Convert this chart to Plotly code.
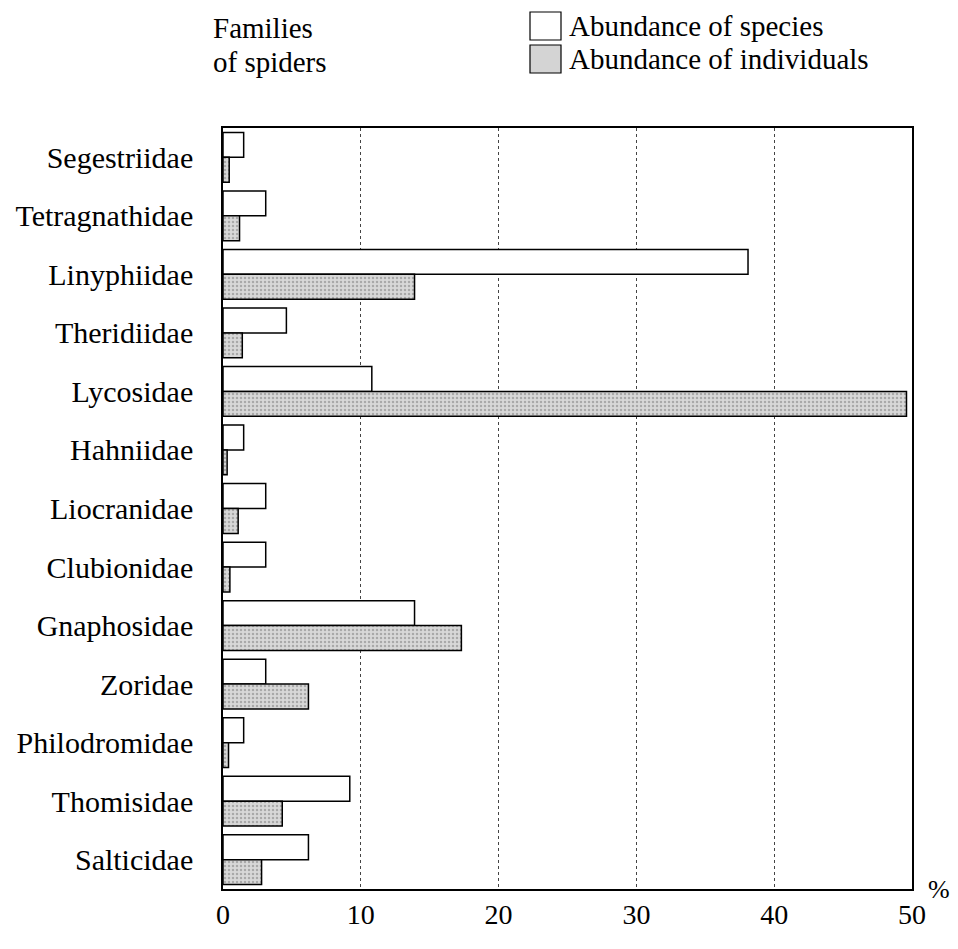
import plotly.graph_objects as go

families = ["Segestriidae", "Tetragnathidae", "Linyphiidae", "Theridiidae", "Lycosidae",
            "Hahniidae", "Liocranidae", "Clubionidae", "Gnaphosidae", "Zoridae",
            "Philodromidae", "Thomisidae", "Salticidae"]
species = [1.5, 3.1, 38.1, 4.6, 10.8, 1.5, 3.1, 3.1, 13.9, 3.1, 1.5, 9.2, 6.2]
individuals = [0.45, 1.2, 13.9, 1.4, 49.6, 0.3, 1.1, 0.5, 17.3, 6.2, 0.4, 4.3, 2.8]
x_ticks = [0, 10, 20, 30, 40, 50]
series_names = ["Abundance of species", "Abundance of individuals"]

FONT = "Liberation Serif"
W, H = 958, 949
OFF = 8  # page body margin
ML, MR, MT, MB = 215, 54, 120, 68
PW, PH = W - ML - MR, H - MT - MB

SPECIES_STYLE = dict(color="white", line=dict(color="black", width=1.5))
INDIV_STYLE = dict(color="#d4d4d4", line=dict(color="black", width=1.5),
                   pattern=dict(shape=".", fgcolor="#7a7a7a", bgcolor="#d8d8d8",
                                size=4, solidity=0.3))

fig = go.Figure()
fig.add_trace(go.Bar(y=families, x=species, orientation="h", name=series_names[0],
                     marker=SPECIES_STYLE))
fig.add_trace(go.Bar(y=families, x=individuals, orientation="h", name=series_names[1],
                     marker=INDIV_STYLE))

fig.update_layout(
    width=W, height=H,
    margin=dict(l=ML, r=MR, t=MT, b=MB, autoexpand=False),
    paper_bgcolor="white", plot_bgcolor="white",
    barmode="group", bargap=0.15, bargroupgap=0.0,
    font=dict(family=FONT, size=30, color="black"),
    showlegend=False,
)
fig.update_xaxes(
    range=[0, 50], tickvals=x_ticks, ticktext=[str(t) for t in x_ticks],
    showgrid=True, gridcolor="#444444", griddash="dot", gridwidth=1,
    showline=True, linecolor="black", linewidth=1.5, mirror=True,
    ticks="", zeroline=False, ticklabelstandoff=0,
    tickfont=dict(family=FONT, size=28),
)
fig.update_yaxes(
    autorange="reversed", showline=True, linecolor="black", linewidth=1.5, mirror=True,
    ticks="", ticklabelstandoff=22, tickfont=dict(family=FONT, size=30),
)

def px_x(sx):
    return (sx - OFF - ML) / PW

def px_y(sy):
    return (H - MB - (sy - OFF)) / PH

# manual legend (large boxes as in the original)
legend_boxes = [(12, 40, "white"), (45, 73, "#d4d4d4")]
for (top, bot, fill), name in zip(legend_boxes, series_names):
    fig.add_shape(type="rect", xref="paper", yref="paper",
                  x0=px_x(530), x1=px_x(561), y0=px_y(bot), y1=px_y(top),
                  line=dict(color="black", width=1.2), fillcolor=fill)
    fig.add_annotation(text=name, xref="paper", yref="paper",
                       x=px_x(567), y=px_y((top + bot) / 2), xanchor="left", yanchor="middle",
                       showarrow=False, font=dict(family=FONT, size=29))

fig.add_annotation(text="Families", xref="paper", yref="paper",
                   x=px_x(211), y=px_y(28), xanchor="left", yanchor="middle",
                   showarrow=False, font=dict(family=FONT, size=29))
fig.add_annotation(text="of spiders", xref="paper", yref="paper",
                   x=px_x(211), y=px_y(62), xanchor="left", yanchor="middle",
                   showarrow=False, font=dict(family=FONT, size=29))
fig.add_annotation(text="%", xref="paper", yref="paper", x=px_x(926), y=px_y(889),
                   xanchor="left", yanchor="middle", showarrow=False,
                   font=dict(family=FONT, size=26))

fig.write_html("out.html")
